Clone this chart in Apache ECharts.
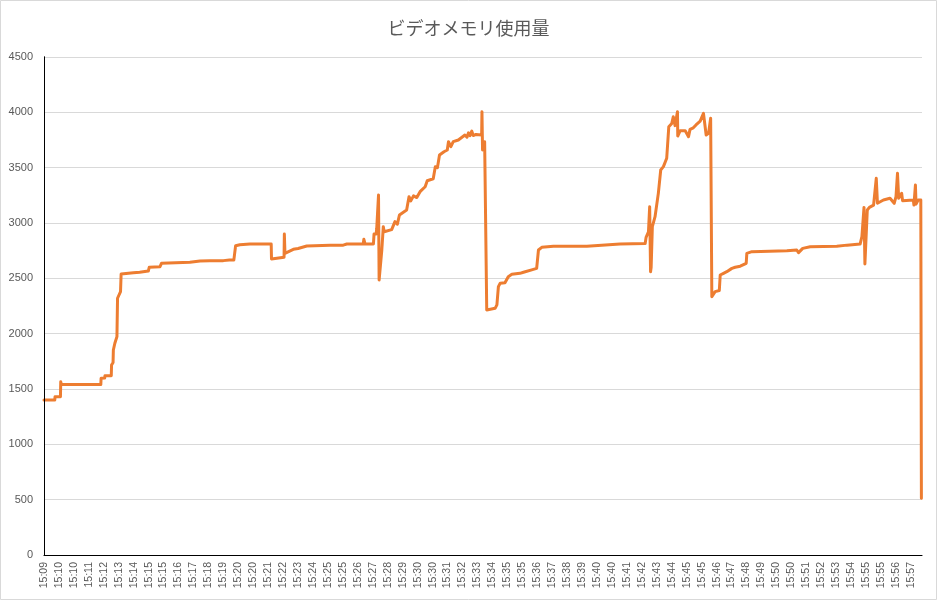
<!DOCTYPE html>
<html>
<head>
<meta charset="utf-8">
<script src="https://cdn.jsdelivr.net/npm/echarts@6/dist/echarts.min.js"></script>
<style>
html,body{margin:0;padding:0;background:#fff;}
#chart{width:937px;height:600px;}
</style>
</head>
<body>
<div id="chart"></div>
<script>
// seconds since 15:09:10 , memory usage (MB)
const phase1 = [
  [0,1400],[36,1400],[37,1430],[55,1430],[56,1565],[58,1540],[190,1540],[191,1597],[203,1600],[204,1620],[225,1620],
  [226,1717],[231,1740],[232,1852],[237,1913],[244,1973],[246,2320],[256,2380],[258,2539],[299,2550],[320,2555],
  [349,2566],[352,2600],[388,2605],[393,2636],[488,2645],[522,2657],[555,2660],[600,2660],[620,2665],[635,2665],
  [641,2795],[655,2804],[689,2810],[760,2810],[761,2675],[803,2690],[804,2900],[806,2726],[834,2762],[850,2770],
  [879,2792],[884,2800],[957,2800]
];
const phase2 = [
  [1001,2800],[1013,2810],[1068,2810],[1070,2853],[1074,2810],[1102,2810],[1104,2900],[1111,2900],[1113,2950],
  [1119,3253],[1121,2485],[1126,2490],[1130,2756],[1135,2967],[1138,2921],[1163,2940],[1174,3012],[1182,2990],
  [1189,3072],[1213,3117],[1221,3238],[1227,3200],[1236,3245],[1247,3230],[1258,3283],[1275,3328],[1282,3382],
  [1302,3400],[1309,3509],[1316,3500],[1323,3614],[1338,3644],[1349,3660],[1353,3735],[1361,3690],[1369,3735],
  [1386,3750],[1408,3795],[1415,3775],[1420,3815],[1425,3790],[1431,3830],[1436,3790],[1445,3800],[1464,3795],
  [1465,4006],[1467,3660],[1474,3735],[1479,3720],[1481,2214],[1484,2229],[1509,2229],[1515,2260],[1520,2425],
  [1526,2455],[1542,2460],[1553,2515],[1565,2536],[1592,2545],[1604,2555],[1637,2581],[1648,2590],[1654,2756],
  [1665,2780],[1704,2790],[1816,2790],[1821,2805],[1927,2810]
];
const phase3 = [
  [2011,2815],[2014,2870],[2022,2921],[2026,3147],[2029,2560],[2031,2600],[2035,2967],[2044,3057],[2055,3268],
  [2063,3479],[2072,3509],[2083,3585],[2090,3870],[2100,3900],[2105,3960],[2111,3880],[2119,4006],[2120,3786],
  [2128,3834],[2145,3834],[2156,3780],[2161,3846],[2172,3860],[2181,3886],[2195,3920],[2206,3991],[2215,3795],
  [2223,3810],[2230,3946],[2234,2334],[2245,2380],[2259,2390],[2262,2530],[2273,2545],[2284,2560],[2301,2590],
  [2312,2600],[2329,2610],[2349,2636],[2351,2726],[2368,2741],[2485,2750],[2518,2756],[2524,2732],[2530,2732],
  [2538,2771],[2563,2786],[2652,2790],[2686,2800],[2730,2810],[2736,2876],[2743,3141],[2746,2629],[2752,2640],
  [2754,3117],[2761,3141],[2775,3162],[2784,3404],[2788,3178],[2808,3208],[2830,3223],[2844,3178],[2850,3238],
  [2855,3449],[2859,3223],[2869,3268],[2872,3202],[2908,3208],[2910,3162],[2915,3343],[2917,3170],[2924,3208],
  [2933,3208],[2935,512]
];
const tickLabels = [
  '15:09','15:10','15:10','15:11','15:12','15:13','15:14','15:15','15:15','15:16','15:17','15:18','15:19','15:20',
  '15:20','15:21','15:22','15:23','15:24','15:25','15:25','15:26','15:27','15:28','15:29','15:30','15:30','15:31',
  '15:32','15:33','15:34','15:35','15:35','15:36','15:37','15:38','15:39','15:40','15:40','15:41','15:42','15:43',
  '15:44','15:45','15:45','15:46','15:47','15:48','15:49','15:50','15:50','15:51','15:52','15:53','15:54','15:55',
  '15:55','15:56','15:57'
];
const titleText = 'ビデオメモリ使用量';

const series = phase1.concat(phase2, phase3);
const tickStep = 50;
const xMax = 2937;

const chart = echarts.init(document.getElementById('chart'), null, {renderer: 'canvas'});
chart.setOption({
  animation: false,
  backgroundColor: '#fff',
  textStyle: {fontFamily: '"Noto Sans CJK JP", "Liberation Sans", sans-serif'},
  title: {
    text: titleText, left: 'center', top: 14,
    textStyle: {fontSize: 18, fontWeight: 'normal', color: '#595959', fontFamily: '"Noto Sans CJK JP", sans-serif'}
  },
  graphic: [{
    type: 'rect', silent: true, z: -10,
    shape: {x: 0.5, y: 0.5, width: 936, height: 599},
    style: {fill: 'none', stroke: '#d9d9d9', lineWidth: 1}
  }],
  grid: {left: 44, right: 15, top: 57, bottom: 45},
  xAxis: [{
    type: 'value', min: 0, max: xMax, interval: tickStep,
    axisLine: {show: true, lineStyle: {color: '#d9d9d9', width: 1}},
    axisTick: {show: false},
    splitLine: {show: false},
    axisLabel: {
      rotate: 90, fontSize: 10.5, color: '#595959', margin: 7, showMaxLabel: false,
      fontFamily: '"Liberation Sans", Arial, sans-serif',
      formatter: function (v) {
        if (v % tickStep !== 0) return '';
        const lbl = tickLabels[Math.round(v / tickStep)];
        return lbl === undefined ? '' : lbl;
      }
    }
  }, {
    type: 'value', position: 'top', min: 0, max: xMax, z: 5,
    axisLine: {show: true, lineStyle: {color: '#000', width: 1}},
    axisTick: {show: false}, axisLabel: {show: false}, splitLine: {show: false}
  }],
  yAxis: [{
    type: 'value', min: 0, max: 4500, interval: 500,
    axisLine: {show: true, lineStyle: {color: '#000', width: 1}},
    axisTick: {show: false},
    splitLine: {show: true, lineStyle: {color: '#d9d9d9', width: 1}},
    axisLabel: {
      fontSize: 11, color: '#595959', margin: 11, fontFamily: '"Liberation Sans", Arial, sans-serif',
      formatter: function (v) { return String(v); }
    }
  }, {
    type: 'value', position: 'right', min: 0, max: 4500, interval: 500, z: 5,
    axisLine: {show: true, lineStyle: {color: '#000', width: 1}},
    axisTick: {show: false}, axisLabel: {show: false}, splitLine: {show: false}
  }],
  series: [{
    type: 'line', data: series, xAxisIndex: 0, yAxisIndex: 0,
    showSymbol: false, symbol: 'none', z: 3,
    lineStyle: {color: '#ED7D31', width: 3, join: 'round', cap: 'round'}
  }]
});
</script>
</body>
</html>
